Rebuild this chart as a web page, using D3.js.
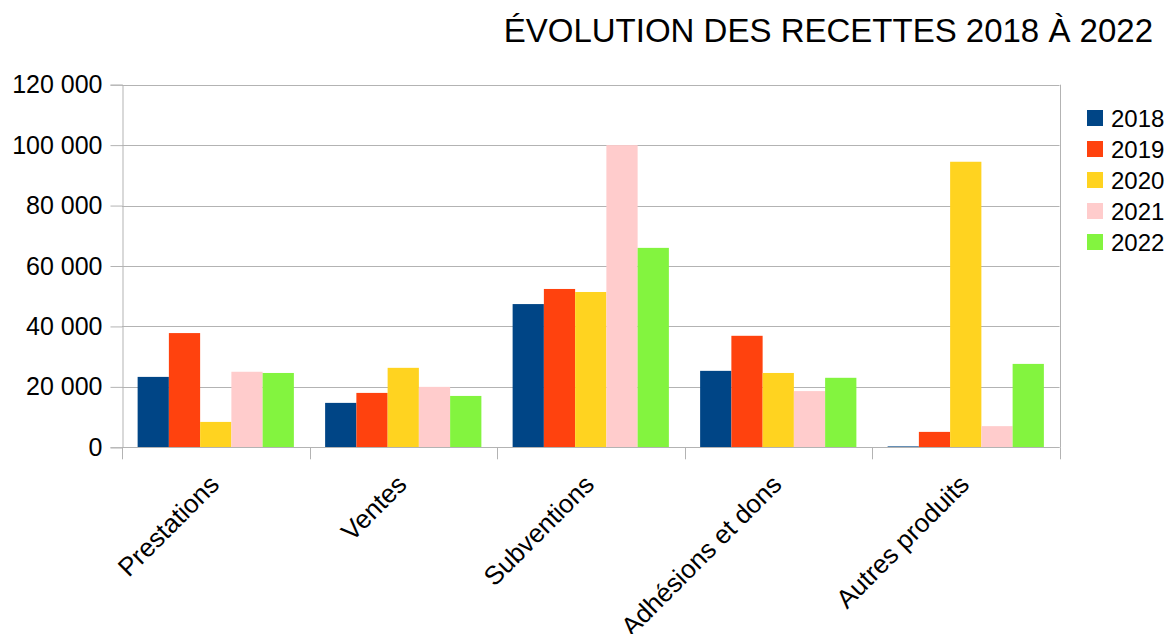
<!DOCTYPE html>
<html lang="fr">
<head>
<meta charset="utf-8">
<title>Évolution des recettes</title>
<script src="https://d3js.org/d3.v7.min.js"></script>
<style>
  body { margin: 0; background: #fff; }
  svg text { font-family: "Liberation Sans", Arial, sans-serif; fill: #000; }
</style>
</head>
<body>
<div id="chart"></div>
<script>
// data
var categories = ["Prestations", "Ventes", "Subventions", "Adhésions et dons", "Autres produits"];
var years = ["2018", "2019", "2020", "2021", "2022"];
var v2018 = [23300, 14700, 47400, 25300, 300];
var v2019 = [37800, 18000, 52400, 36900, 5100];
var v2020 = [8400, 26300, 51400, 24600, 94500];
var v2021 = [25000, 20000, 100000, 18600, 7000];
var v2022 = [24600, 17000, 66000, 23000, 27600];
var yTicks = [0, 20000, 40000, 60000, 80000, 100000, 120000];
var colors = ["#004586", "#ff420e", "#ffd320", "#ffcccc", "#83f43f"];
var title = "ÉVOLUTION DES RECETTES 2018 À 2022";

var series = [v2018, v2019, v2020, v2021, v2022];

var w = 1174, h = 634;
var plotLeft = 122, plotRight = 1059.5, plotTop = 84.7, plotBottom = 447.3;

var svg = d3.select("#chart").append("svg")
  .attr("width", w)
  .attr("height", h);

var x = d3.scaleBand().domain(categories).range([plotLeft, plotRight]);
var xs = d3.scaleBand().domain(years).range([0, x.bandwidth()]).paddingOuter(0.5);
var y = d3.scaleLinear().domain([0, 120000]).range([plotBottom, plotTop]);
var color = d3.scaleOrdinal().domain(years).range(colors);

var fmt = function(d) { return d3.format(",")(d).replace(/,/g, " "); };

// grid
svg.append("g").selectAll("line")
  .data(yTicks)
  .enter().append("line")
  .attr("x1", plotLeft).attr("x2", plotRight)
  .attr("y1", d => Math.round(y(d)) + 0.5)
  .attr("y2", d => Math.round(y(d)) + 0.5)
  .attr("stroke", "#b3b3b3");

// right border
svg.append("line")
  .attr("x1", Math.round(plotRight) + 0.5).attr("x2", Math.round(plotRight) + 0.5)
  .attr("y1", plotTop).attr("y2", plotBottom)
  .attr("stroke", "#b3b3b3");

// bars
var rows = [];
categories.forEach(function(c, i) {
  years.forEach(function(yr, j) {
    rows.push({cat: c, year: yr, value: series[j][i]});
  });
});

svg.append("g").selectAll("rect")
  .data(rows)
  .enter().append("rect")
  .attr("x", d => x(d.cat) + xs(d.year))
  .attr("width", xs.bandwidth())
  .attr("y", d => y(d.value))
  .attr("height", d => y(0) - y(d.value))
  .attr("fill", d => color(d.year));

// y axis
var yAxis = svg.append("g")
  .attr("transform", "translate(" + (Math.round(plotLeft) + 0.5) + ",0)")
  .call(d3.axisLeft(y).tickValues(yTicks).tickFormat(fmt).tickSize(12).tickPadding(8));
yAxis.select(".domain").attr("stroke", "#b3b3b3");
yAxis.selectAll(".tick line").attr("stroke", "#b3b3b3");
yAxis.selectAll(".tick text")
  .attr("font-size", 25)
  .attr("font-family", "Liberation Sans, Arial, sans-serif")
  .attr("fill", "#000");

// x axis: ticks at category boundaries
var bounds = categories.map(c => x(c)).concat([plotRight]);
svg.append("line")
  .attr("x1", plotLeft).attr("x2", plotRight)
  .attr("y1", Math.round(plotBottom) + 0.5).attr("y2", Math.round(plotBottom) + 0.5)
  .attr("stroke", "#b3b3b3");
svg.append("g").selectAll("line")
  .data(bounds)
  .enter().append("line")
  .attr("x1", d => Math.round(d) + 0.5).attr("x2", d => Math.round(d) + 0.5)
  .attr("y1", plotBottom).attr("y2", plotBottom + 12)
  .attr("stroke", "#b3b3b3");

svg.append("g").selectAll("text")
  .data(categories)
  .enter().append("text")
  .attr("transform", d => "translate(" + (x(d) + x.bandwidth() / 2 + 5) + "," + 486 + ") rotate(-45)")
  .attr("text-anchor", "end")
  .attr("font-size", 26)
  .text(d => d);

// legend
var legend = svg.append("g").attr("transform", "translate(1087,0)");
var leg = legend.selectAll("g")
  .data(years)
  .enter().append("g")
  .attr("transform", (d, i) => "translate(0," + (118 + i * 31) + ")");
leg.append("rect")
  .attr("x", 0).attr("y", -8)
  .attr("width", 16).attr("height", 16)
  .attr("fill", d => color(d));
leg.append("text")
  .attr("x", 24).attr("y", 8.5)
  .attr("font-size", 24)
  .text(d => d);

// title
svg.append("text")
  .attr("x", 1153).attr("y", 42)
  .attr("text-anchor", "end")
  .attr("font-size", 33)
  .text(title);
</script>
</body>
</html>
